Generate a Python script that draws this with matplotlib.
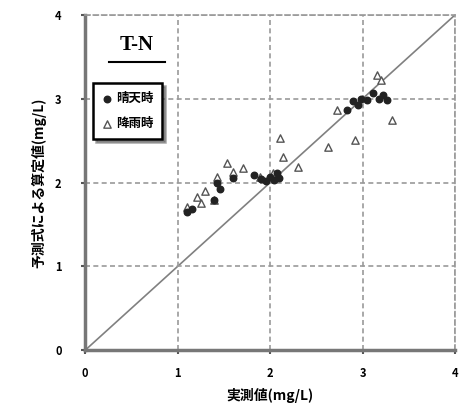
import matplotlib.pyplot as plt
from matplotlib.lines import Line2D

plt.rcParams["font.family"] = ["Noto Sans CJK JP", "DejaVu Sans"]

# 晴天時 (filled circles)
fine_x = [1.10, 1.16, 1.39, 1.43, 1.46, 1.60, 1.82, 1.90, 1.95, 2.00, 2.07, 2.04, 2.10,
          2.90, 2.95, 2.98, 3.05, 3.11, 3.18, 3.26, 2.83, 3.22]
fine_y = [1.65, 1.69, 1.79, 1.99, 1.92, 2.05, 2.09, 2.04, 2.02, 2.07, 2.11, 2.03, 2.05,
          2.97, 2.93, 3.00, 2.98, 3.07, 3.00, 2.99, 2.87, 3.04]

# 降雨時 (open triangles)
rain_x = [1.10, 1.21, 1.39, 1.42, 1.53, 1.71, 1.89, 2.03, 2.14, 2.11, 2.30, 2.63,
          2.72, 2.92, 3.16, 3.32, 1.30, 1.60, 1.25, 3.20]
rain_y = [1.71, 1.83, 1.79, 2.07, 2.23, 2.17, 2.07, 2.11, 2.30, 2.53, 2.19, 2.42,
          2.87, 2.51, 3.28, 2.75, 1.90, 2.12, 1.75, 3.22]

ticks = [0, 1, 2, 3, 4]

fig = plt.figure(figsize=(4.63, 4.12), dpi=100)
ax = fig.add_axes([0.184, 0.150, 0.799, 0.814])

ax.plot([0, 4], [0, 4], color="#808080", linewidth=1.2, zorder=1)

ax.scatter(rain_x, rain_y, marker="^", s=28, facecolors="white",
           edgecolors="#555555", linewidths=1.0, zorder=3, label="降雨時")
ax.scatter(fine_x, fine_y, marker="o", s=22, color="#222222", zorder=4,
           label="晴天時")

ax.set_xlim(0, 4)
ax.set_ylim(0, 4)
ax.set_xticks(ticks)
ax.set_yticks(ticks)
ax.set_xticklabels([str(t) for t in ticks], fontsize=8, fontweight="bold")
ax.set_yticklabels([str(t) for t in ticks], fontsize=8, fontweight="bold")
ax.tick_params(axis="x", length=3, width=1.5, color="#555555", pad=9)
ax.tick_params(axis="y", length=3, width=1.5, color="#555555", pad=14)

ax.grid(True, linestyle=(0, (3, 2)), color="#999999", linewidth=1.2)
for side in ["left", "bottom"]:
    ax.spines[side].set_linewidth(2.5)
    ax.spines[side].set_color("#777777")
for side in ["top", "right"]:
    ax.spines[side].set_linestyle((0, (3, 2)))
    ax.spines[side].set_color("#999999")
    ax.spines[side].set_linewidth(1.2)

ax.set_xlabel("実測値(mg/L)", fontsize=10, fontweight="bold", labelpad=6)
ax.set_ylabel("予測式による算定値(mg/L)", fontsize=10, fontweight="bold", labelpad=6)

ax.text(0.14, 0.91, "T-N", transform=ax.transAxes, ha="center", va="center",
        fontsize=15, fontweight="bold", family="Liberation Serif")
ax.add_line(Line2D([0.065, 0.215], [0.86, 0.86], transform=ax.transAxes,
                   color="black", linewidth=1.5))

handles, labels = ax.get_legend_handles_labels()
leg = ax.legend(handles[::-1], labels[::-1], loc="upper left",
                bbox_to_anchor=(0.005, 0.815), frameon=True,
                fancybox=False, shadow=True, handletextpad=0.3,
                handlelength=0.8, borderpad=0.7, labelspacing=1.0,
                prop={"weight": "bold", "size": 9})
leg.get_frame().set_edgecolor("black")
leg.get_frame().set_linewidth(1.8)

fig.savefig("out.png", dpi=100)
